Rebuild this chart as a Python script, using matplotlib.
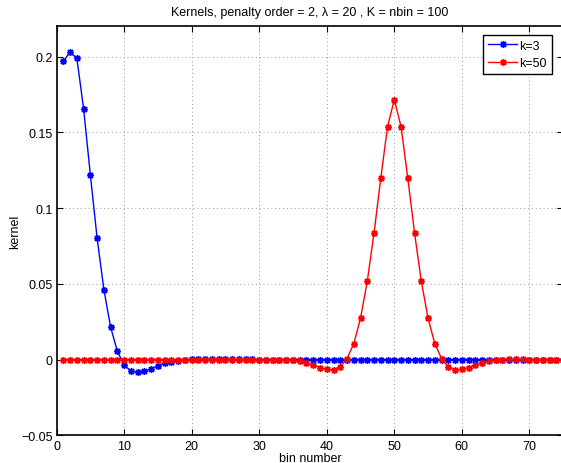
import matplotlib
matplotlib.use("Agg")
import matplotlib.pyplot as plt
from matplotlib.ticker import FixedLocator, FuncFormatter

bins = list(range(1, 76))

k3 = [0.1970, 0.2029, 0.1989, 0.1655, 0.1219, 0.0801, 0.0462, 0.0214, 0.0055, -0.0036,
      -0.0075, -0.0083, -0.0077, -0.0060, -0.0040, -0.0024, -0.0013, -0.0006, -0.0001, 0.0002,
      0.0003, 0.0003, 0.0003, 0.0003, 0.0002, 0.0002, 0.0001, 0.0001, 0.0001, 0.0000,
      0.0000, 0.0000, 0.0000, 0.0000, 0.0000, 0.0000, 0.0000, 0.0000, 0.0000, 0.0000,
      0.0000, 0.0000, 0.0000, 0.0000, 0.0000, 0.0000, 0.0000, 0.0000, 0.0000, 0.0000,
      0.0000, 0.0000, 0.0000, 0.0000, 0.0000, 0.0000, 0.0000, 0.0000, 0.0000, 0.0000,
      0.0000, 0.0000, 0.0000, 0.0000, 0.0000, 0.0000, 0.0000, 0.0000, 0.0000, 0.0000,
      0.0000, 0.0000, 0.0000, 0.0000, 0.0000]

k50 = [0.0000, 0.0000, 0.0000, 0.0000, 0.0000, 0.0000, 0.0000, 0.0000, 0.0000, 0.0000,
       0.0000, 0.0000, 0.0000, 0.0000, 0.0000, 0.0000, 0.0000, 0.0000, 0.0000, 0.0000,
       0.0000, 0.0000, 0.0000, 0.0000, 0.0000, 0.0000, 0.0000, 0.0000, 0.0000, 0.0000,
       0.0000, 0.0000, 0.0000, 0.0000, -0.0003, -0.0011, -0.0022, -0.0036, -0.0052, -0.0064,
       -0.0067, -0.0046, 0.0007, 0.0105, 0.0273, 0.0517, 0.0836, 0.1197, 0.1538, 0.1716,
       0.1538, 0.1197, 0.0836, 0.0517, 0.0273, 0.0105, 0.0007, -0.0046, -0.0067, -0.0064,
       -0.0052, -0.0036, -0.0022, -0.0011, -0.0003, 0.0000, 0.0001, 0.0001, 0.0001, 0.0000,
       0.0000, 0.0000, 0.0000, 0.0000, 0.0000]

xticks = [0, 10, 20, 30, 40, 50, 60, 70]
yticks = [-0.05, 0, 0.05, 0.1, 0.15, 0.2]

plt.rcParams['font.family'] = ['Liberation Sans', 'DejaVu Sans']
plt.rcParams['font.size'] = 9

fig = plt.figure(figsize=(5.61, 4.64), dpi=100)
ax = fig.add_axes([0.1009, 0.0595, 0.9029, 0.8817])

star = (8, 2, 0)
ax.plot(bins, k3, color='#0000ff', lw=1.0, marker=star, ms=5, mew=1.0, label='k=3')
ax.plot(bins, k50, color='#ff0000', lw=1.0, marker=star, ms=5, mew=1.0, label='k=50')

ax.set_xlim(0, 75)
ax.set_ylim(-0.05, 0.22)
ax.xaxis.set_major_locator(FixedLocator(xticks))
ax.yaxis.set_major_locator(FixedLocator(yticks))

def yfmt(v, pos):
    s = '%g' % round(v, 4)
    return s.replace('-', '\u2212')
ax.yaxis.set_major_formatter(FuncFormatter(yfmt))

ax.tick_params(direction='in', top=True, right=True, length=4, width=0.8, labelsize=9, pad=3)
ax.grid(True, linestyle=(0, (1, 3)), color='#999999', linewidth=0.7)
for s in ax.spines.values():
    s.set_linewidth(1.2)

ax.set_title('Kernels, penalty order = 2, \u03bb = 20 , K = nbin = 100', fontsize=9, pad=8)
ax.set_xlabel('bin number', fontsize=9, labelpad=0)
ax.set_ylabel('kernel', fontsize=9, labelpad=0)

leg = ax.legend(loc='upper right', bbox_to_anchor=(0.978, 0.979), borderaxespad=0,
                fancybox=False, framealpha=1, edgecolor='black', handlelength=2.3,
                handletextpad=0.2, borderpad=0.4, labelspacing=0.45, fontsize=9)
leg.get_frame().set_linewidth(1.0)

fig.savefig('out.png', dpi=100)
